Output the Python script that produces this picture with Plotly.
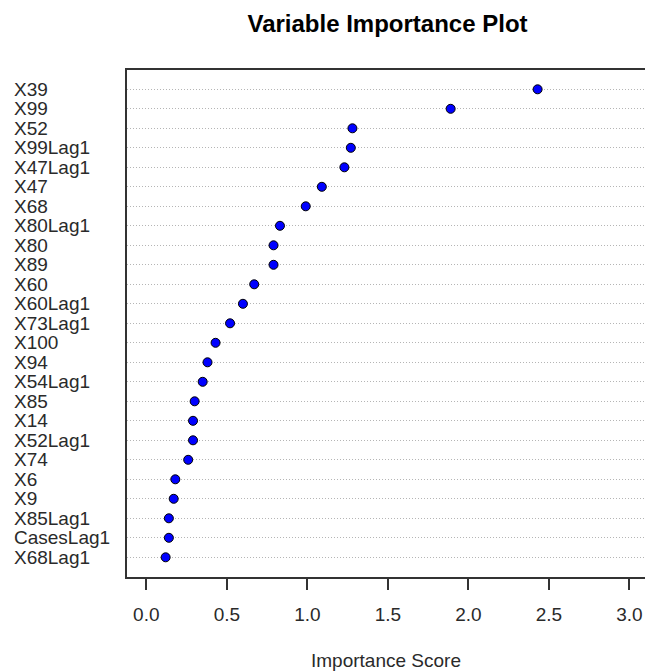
import plotly.graph_objects as go

# Data (top to bottom as shown)
labels = ["X39", "X99", "X52", "X99Lag1", "X47Lag1", "X47", "X68", "X80Lag1",
          "X80", "X89", "X60", "X60Lag1", "X73Lag1", "X100", "X94", "X54Lag1",
          "X85", "X14", "X52Lag1", "X74", "X6", "X9", "X85Lag1", "CasesLag1",
          "X68Lag1"]
scores = [2.43, 1.89, 1.28, 1.27, 1.23, 1.09, 0.99, 0.83,
          0.79, 0.79, 0.67, 0.60, 0.52, 0.43, 0.38, 0.35,
          0.30, 0.29, 0.29, 0.26, 0.18, 0.17, 0.14, 0.14,
          0.12]
x_ticks = [0.0, 0.5, 1.0, 1.5, 2.0, 2.5, 3.0]
x_tick_text = ["0.0", "0.5", "1.0", "1.5", "2.0", "2.5", "3.0"]

n = len(labels)
ypos = [n - 1 - i for i in range(n)]  # top row gets highest index

FONT = "Liberation Sans, Arial, sans-serif"

fig = go.Figure()
fig.add_trace(go.Scatter(
    x=scores, y=ypos, mode="markers",
    marker=dict(size=9, color="#0000FF", line=dict(color="#000000", width=1)),
    showlegend=False, hoverinfo="x+text", text=labels,
))

for lab, yy in zip(labels, ypos):
    fig.add_annotation(
        x=(12 - 127) / 518, xref="paper", y=yy, yref="y",
        text=lab, showarrow=False, xanchor="left", yanchor="middle",
        font=dict(family=FONT, size=19, color="#2a2a2a"),
    )

fig.add_annotation(
    x=0.5, xref="paper", y=-(660 - 577) / 507, yref="paper",
    text="Importance Score", showarrow=False, xanchor="center", yanchor="middle",
    font=dict(family=FONT, size=19, color="#2a2a2a"),
)

fig.update_layout(
    width=645, height=671,
    margin=dict(l=127, r=0, t=70, b=94),
    paper_bgcolor="white", plot_bgcolor="white",
    title=dict(text="<b>Variable Importance Plot</b>", x=387.5 / 645, xref="container",
               xanchor="center", y=1 - 24 / 671, yref="container", yanchor="middle",
               font=dict(family=FONT, size=24, color="#000000")),
    xaxis=dict(
        range=[-0.12, 3.097], tickvals=x_ticks, ticktext=x_tick_text,
        ticks="outside", ticklen=11, tickwidth=1.5, tickcolor="#333333",
        showline=True, linecolor="#333333", linewidth=1.5, mirror=True,
        showgrid=False, zeroline=False,
        tickfont=dict(family=FONT, size=19, color="#2a2a2a"),
        ticklabelstandoff=8,
    ),
    yaxis=dict(
        range=[-1.01, 24.99], tickvals=ypos, showticklabels=False, ticks="",
        showline=True, linecolor="#333333", linewidth=1.5, mirror=False,
        showgrid=True, gridcolor="#b5b5b5", gridwidth=1, griddash="1px,2px",
        zeroline=False,
    ),
)

fig.write_html("out.html")
